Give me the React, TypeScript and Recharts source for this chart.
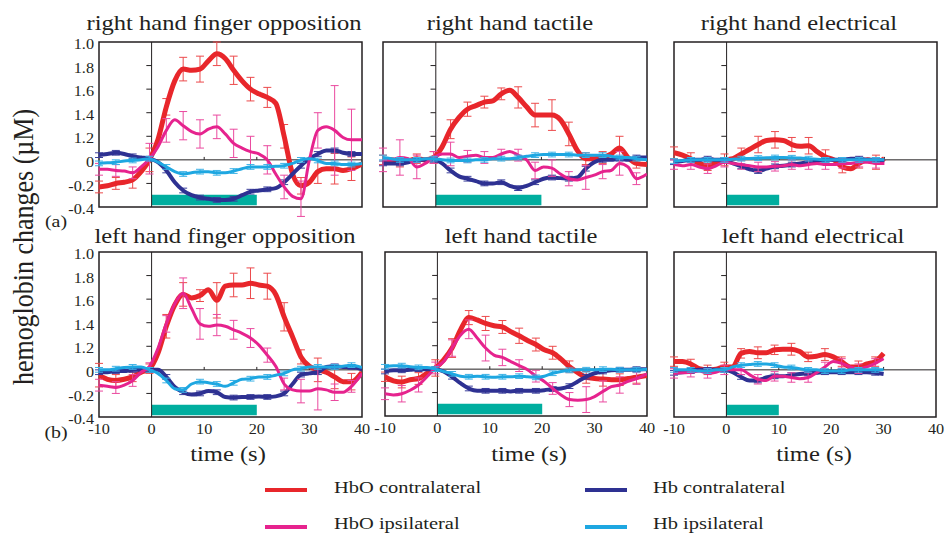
import React from 'react';
import { LineChart, Line, XAxis, YAxis, ErrorBar, ReferenceArea, ReferenceLine } from 'recharts';

// ---------- axis ticks ----------
const yTicks = [-0.4, -0.2, 0, 0.2, 0.4, 0.6, 0.8, 1.0];
const yTickLabels = ['-0.4', '-0.2', '0', '1.2', '1.4', '1.6', '1.8', '1.0'];
const xTicks = [-10, 0, 10, 20, 30, 40];
const xTickLabels = ['-10', '0', '10', '20', '30', '40'];

// ---------- time bases (s) ----------
const times40 = [-10, -8.4, -6.8, -5.2, -3.6, -2, -0.4, 1.2, 2.8, 4.4, 6, 7.6, 9.2, 10.8, 12.4, 14, 15.6, 17.2, 18.8, 20.4, 22, 23.6, 25.2, 26.8, 28.4, 30, 31.6, 33.2, 34.8, 36.4, 38, 40];
const times30 = [-10, -8.4, -6.8, -5.2, -3.6, -2, -0.4, 1.2, 2.8, 4.4, 6, 7.6, 9.2, 10.8, 12.4, 14, 15.6, 17.2, 18.8, 20.4, 22, 23.6, 25.2, 26.8, 28.4, 30];

// ---------- right hand finger opposition ----------
const rfHboC = [-0.23, -0.22, -0.2, -0.19, -0.17, -0.1, 0, 0.17, 0.45, 0.67, 0.77, 0.76, 0.77, 0.84, 0.9, 0.86, 0.76, 0.67, 0.6, 0.56, 0.53, 0.48, 0.2, -0.12, -0.22, -0.19, -0.1, -0.075, -0.075, -0.09, -0.075, -0.035];
const rfHboI = [-0.08, -0.08, -0.09, -0.095, -0.11, -0.06, 0.01, 0.11, 0.25, 0.34, 0.29, 0.24, 0.22, 0.26, 0.28, 0.22, 0.14, 0.1, 0.07, 0.05, 0, -0.12, -0.23, -0.31, -0.33, 0, 0.25, 0.28, 0.25, 0.19, 0.17, 0.17];
const rfHbC = [0.04, 0.05, 0.06, 0.05, 0.03, 0.02, 0.01, -0.02, -0.09, -0.19, -0.26, -0.3, -0.32, -0.33, -0.34, -0.34, -0.33, -0.3, -0.27, -0.26, -0.25, -0.24, -0.19, -0.12, -0.05, 0.01, 0.05, 0.08, 0.08, 0.06, 0.05, 0.05];
const rfHbI = [-0.03, -0.025, -0.02, -0.01, -0.005, 0, 0.01, -0.02, -0.06, -0.1, -0.12, -0.11, -0.1, -0.1, -0.11, -0.11, -0.095, -0.075, -0.06, -0.06, -0.06, -0.055, -0.05, -0.03, 0, 0.01, -0.005, -0.03, -0.03, -0.04, -0.04, -0.03];
const rfErrHboC = [0.05, 0.05, 0.07, 0.1, 0.07, 0.1, 0.11, 0.1, 0.12, 0.1, 0.085, 0.1, 0.07, 0.1, 0.13, 0.1];
const rfErrHboI = [0.05, 0.05, 0.05, 0.13, 0.1, 0.12, 0.12, 0.1, 0.12, 0.13, 0.12, 0.1, 0.15, 0.15, 0.38, 0.26];
const rfErrHbC = [0.02, 0.02, 0.02, 0.02, 0.02, 0.02, 0.02, 0.02, 0.02, 0.02, 0.02, 0.02, 0.02, 0.02, 0.02, 0.02];
const rfErrHbI = [0.02, 0.02, 0.02, 0.02, 0.02, 0.02, 0.02, 0.02, 0.02, 0.02, 0.02, 0.02, 0.02, 0.02, 0.02, 0.02];

// ---------- right hand tactile ----------
const rtHboC = [0, 0, -0.02, -0.01, 0.01, 0, 0.02, 0.11, 0.26, 0.36, 0.43, 0.46, 0.49, 0.5, 0.56, 0.59, 0.53, 0.45, 0.38, 0.38, 0.38, 0.34, 0.22, 0.08, 0.01, 0.01, 0.02, 0.05, 0.1, 0.02, -0.03, -0.04];
const rtHboI = [0, 0, 0.02, 0.01, -0.06, -0.03, 0.02, 0.05, 0.05, 0.02, 0.03, 0.04, 0.02, 0.02, 0.05, 0.07, 0.04, 0, -0.09, -0.06, -0.07, -0.12, -0.16, -0.17, -0.15, -0.13, -0.1, -0.09, -0.03, -0.06, -0.16, -0.12];
const rtHbC = [-0.03, -0.03, -0.03, -0.02, 0, 0, 0, -0.03, -0.09, -0.14, -0.16, -0.18, -0.2, -0.2, -0.19, -0.22, -0.24, -0.22, -0.19, -0.16, -0.15, -0.155, -0.16, -0.15, -0.075, -0.02, 0, 0, 0.01, 0, 0.02, 0.02];
const rtHbI = [0.02, 0.01, 0, 0, 0, 0.01, 0.01, 0, -0.005, -0.005, -0.005, 0, 0, 0.01, 0.01, 0.01, 0.02, 0.03, 0.04, 0.045, 0.045, 0.045, 0.045, 0.04, 0.04, 0.04, 0.04, 0.03, 0.02, 0.02, 0.01, 0];
const rtErrHboC = [0.04, 0.04, 0.04, 0.05, 0.08, 0.06, 0.05, 0.05, 0.09, 0.1, 0.13, 0.1, 0.05, 0.05, 0.1, 0.04];
const rtErrHboI = [0.1, 0.15, 0.1, 0.05, 0.1, 0.05, 0.05, 0.04, 0.05, 0.07, 0.07, 0.06, 0.1, 0.06, 0.1, 0.05];
const rtErrHbC = [0.02, 0.02, 0.02, 0.02, 0.02, 0.02, 0.02, 0.02, 0.02, 0.02, 0.02, 0.02, 0.02, 0.02, 0.02, 0.02];
const rtErrHbI = [0.02, 0.02, 0.02, 0.02, 0.02, 0.02, 0.02, 0.02, 0.02, 0.02, 0.02, 0.02, 0.02, 0.02, 0.02, 0.02];

// ---------- right hand electrical ----------
const reHboC = [0.06, 0.04, 0.01, -0.03, -0.05, -0.02, 0, 0.01, 0.05, 0.09, 0.13, 0.165, 0.17, 0.165, 0.13, 0.115, 0.12, 0.07, 0.025, 0, -0.06, -0.075, -0.03, 0, -0.02, 0.01];
const reHboI = [-0.04, -0.05, -0.04, -0.06, -0.075, -0.05, -0.02, -0.03, -0.04, -0.05, -0.06, -0.06, -0.055, -0.05, -0.04, -0.05, -0.04, -0.03, -0.04, -0.04, -0.03, -0.03, -0.02, -0.02, -0.03, -0.03];
const reHbC = [-0.02, -0.01, 0, 0, 0.01, 0, 0, -0.03, -0.055, -0.08, -0.095, -0.075, -0.055, -0.05, -0.04, -0.03, -0.02, -0.01, 0, 0, 0, 0.01, 0.01, 0, 0, -0.01];
const reHbI = [-0.01, -0.005, 0, 0, 0, 0, 0, 0.005, 0.01, 0.012, 0.015, 0.018, 0.02, 0.02, 0.018, 0.015, 0.01, 0.005, 0, 0, 0, 0, 0, 0, 0, 0];
const reErrHboC = [0.05, 0.05, 0.04, 0.05, 0.05, 0.07, 0.07, 0.06, 0.07, 0.06, 0.05, 0.04, 0.06];
const reErrHboI = [0.04, 0.04, 0.04, 0.04, 0.04, 0.04, 0.04, 0.04, 0.04, 0.04, 0.04, 0.04, 0.04];
const reErrHbC = [0.02, 0.02, 0.02, 0.02, 0.02, 0.02, 0.02, 0.02, 0.02, 0.02, 0.02, 0.02, 0.02];
const reErrHbI = [0.02, 0.02, 0.02, 0.02, 0.02, 0.02, 0.02, 0.02, 0.02, 0.02, 0.02, 0.02, 0.02];

// ---------- left hand finger opposition ----------
const lfHboC = [-0.045, -0.08, -0.09, -0.08, -0.06, -0.02, 0.01, 0.14, 0.37, 0.55, 0.64, 0.61, 0.63, 0.68, 0.59, 0.71, 0.72, 0.72, 0.735, 0.72, 0.71, 0.64, 0.45, 0.28, 0.11, 0.03, 0, -0.02, -0.06, -0.1, -0.1, -0.02];
const lfHboI = [-0.13, -0.14, -0.15, -0.13, -0.09, -0.02, 0.03, 0.18, 0.39, 0.56, 0.65, 0.52, 0.39, 0.37, 0.38, 0.37, 0.34, 0.31, 0.27, 0.21, 0.125, 0.03, -0.12, -0.17, -0.18, -0.18, -0.16, -0.17, -0.19, -0.19, -0.14, -0.03];
const lfHbC = [-0.02, -0.02, -0.01, -0.01, 0, 0, 0, 0, -0.06, -0.145, -0.19, -0.21, -0.2, -0.18, -0.19, -0.23, -0.235, -0.23, -0.23, -0.225, -0.23, -0.225, -0.2, -0.12, -0.04, -0.03, -0.02, 0.025, 0.03, 0.025, 0.025, 0.005];
const lfHbI = [0, 0, 0.01, 0.02, 0.025, 0.025, 0, -0.03, -0.09, -0.16, -0.17, -0.12, -0.1, -0.11, -0.12, -0.14, -0.11, -0.08, -0.075, -0.06, -0.06, -0.045, -0.03, 0, 0.01, 0.025, 0.025, 0.025, 0.025, 0.03, 0.04, 0.02];
const lfErrHboC = [0.1, 0.05, 0.04, 0.04, 0.1, 0.1, 0.05, 0.15, 0.1, 0.13, 0.11, 0.12, 0.06, 0.1, 0.1, 0.07];
const lfErrHboI = [0.05, 0.05, 0.05, 0.03, 0.07, 0.13, 0.13, 0.09, 0.08, 0.08, 0.06, 0.05, 0.1, 0.18, 0.07, 0.05];
const lfErrHbC = [0.02, 0.02, 0.02, 0.02, 0.02, 0.02, 0.02, 0.02, 0.02, 0.02, 0.02, 0.02, 0.02, 0.02, 0.02, 0.02];
const lfErrHbI = [0.02, 0.02, 0.02, 0.02, 0.02, 0.02, 0.02, 0.02, 0.02, 0.02, 0.02, 0.02, 0.02, 0.02, 0.02, 0.02];

// ---------- left hand tactile ----------
const ltHboC = [-0.065, -0.1, -0.11, -0.09, -0.08, -0.035, 0.01, 0.08, 0.18, 0.335, 0.44, 0.42, 0.39, 0.37, 0.36, 0.32, 0.285, 0.245, 0.21, 0.165, 0.14, 0.085, 0.02, -0.03, -0.07, -0.08, -0.085, -0.09, -0.09, -0.08, -0.07, -0.055];
const ltHboI = [-0.21, -0.22, -0.21, -0.18, -0.135, -0.065, 0.01, 0.065, 0.18, 0.29, 0.34, 0.265, 0.18, 0.12, 0.1, 0.065, 0.03, -0.005, -0.06, -0.105, -0.165, -0.22, -0.26, -0.265, -0.26, -0.235, -0.19, -0.15, -0.135, -0.105, -0.08, -0.04];
const ltHbC = [-0.02, -0.01, -0.01, -0.005, 0, 0, 0, -0.02, -0.065, -0.12, -0.165, -0.185, -0.185, -0.185, -0.185, -0.19, -0.185, -0.185, -0.185, -0.18, -0.17, -0.165, -0.145, -0.105, -0.065, -0.035, -0.02, -0.01, -0.005, -0.005, 0, 0];
const ltHbI = [0.02, 0.03, 0.03, 0.02, 0.015, 0.015, 0, -0.02, -0.04, -0.06, -0.065, -0.06, -0.065, -0.07, -0.065, -0.065, -0.06, -0.065, -0.07, -0.06, -0.035, -0.02, -0.01, -0.005, -0.005, -0.005, 0, 0, -0.005, -0.005, -0.005, 0];
const ltErrHboC = [0.04, 0.05, 0.05, 0.07, 0.08, 0.06, 0.06, 0.055, 0.065, 0.055, 0.055, 0.05, 0.05, 0.06, 0.05, 0.05];
const ltErrHboI = [0.05, 0.07, 0.06, 0.05, 0.07, 0.08, 0.11, 0.07, 0.05, 0.05, 0.05, 0.06, 0.11, 0.09, 0.07, 0.05];
const ltErrHbC = [0.02, 0.02, 0.02, 0.02, 0.02, 0.02, 0.02, 0.02, 0.02, 0.02, 0.02, 0.02, 0.02, 0.02, 0.02, 0.02];
const ltErrHbI = [0.02, 0.02, 0.02, 0.02, 0.02, 0.02, 0.02, 0.02, 0.02, 0.02, 0.02, 0.02, 0.02, 0.02, 0.02, 0.02];

// ---------- left hand electrical ----------
const leHboC = [0.07, 0.07, 0.05, 0.01, 0, 0.005, 0.025, 0.025, 0.14, 0.155, 0.145, 0.145, 0.17, 0.175, 0.175, 0.155, 0.11, 0.115, 0.13, 0.11, 0.07, 0.025, 0.025, 0.05, 0.07, 0.14];
const leHboI = [-0.03, -0.025, -0.02, -0.01, -0.03, -0.02, 0, 0, 0, -0.04, -0.08, -0.09, -0.055, -0.055, -0.065, -0.075, -0.065, -0.025, 0.025, 0.07, 0.055, 0.025, 0.01, 0.025, 0.055, 0.095];
const leHbC = [-0.025, -0.02, -0.01, 0, 0, 0, 0, -0.02, -0.06, -0.09, -0.09, -0.065, -0.055, -0.055, -0.045, -0.035, -0.03, -0.025, -0.02, -0.02, -0.02, -0.02, -0.02, -0.02, -0.025, -0.035];
const leHbI = [0, 0, 0, -0.01, -0.01, 0, 0, 0.025, 0.04, 0.045, 0.05, 0.05, 0.04, 0.025, 0.02, 0.01, 0, 0, -0.01, -0.01, -0.01, 0, 0, 0, 0, 0];
const leErrHboC = [0.04, 0.04, 0.04, 0.04, 0.04, 0.05, 0.04, 0.05, 0.04, 0.05, 0.04, 0.05, 0.04];
const leErrHboI = [0.04, 0.04, 0.04, 0.04, 0.04, 0.04, 0.04, 0.04, 0.04, 0.04, 0.04, 0.04, 0.04];
const leErrHbC = [0.02, 0.02, 0.02, 0.02, 0.02, 0.02, 0.02, 0.02, 0.02, 0.02, 0.02, 0.02, 0.02];
const leErrHbI = [0.02, 0.02, 0.02, 0.02, 0.02, 0.02, 0.02, 0.02, 0.02, 0.02, 0.02, 0.02, 0.02];

// ---------- labels ----------
const panelTitles = ['right hand finger opposition', 'right hand tactile', 'right hand electrical', 'left hand finger opposition', 'left hand tactile', 'left hand electrical'];
const stimulusEnd = [20, 20, 10, 20, 20, 10];
const seriesNames = ['HbO contralateral', 'HbO ipsilateral', 'Hb contralateral', 'Hb ipsilateral'];
const yAxisTitle = 'hemoglobin changes (\u00b5M)';
const xAxisTitle = 'time (s)';
const rowTags = ['(a)', '(b)'];

// ---------- styles ----------
const FONT = "'Liberation Serif', 'Times New Roman', serif";
const INK = '#231f20';
const COL = { hboC: '#e8262b', hboI: '#e6238e', hbC: '#2e3192', hbI: '#1ea7e1' };
const ERRCOL = { hboC: '#ec4a4c', hboI: '#ea4a9f', hbC: '#3b3f9c', hbI: '#3cb2e6' };
const TEAL = '#00ae9f';
const SX = 1.17;

type Series = { hboC: number[]; hboI: number[]; hbC: number[]; hbI: number[] };

function buildRows(times: number[], s: Series, e: Series) {
  return times.map((t, i) => {
    const row: any = { t, hboC: s.hboC[i], hboI: s.hboI[i], hbC: s.hbC[i], hbI: s.hbI[i] };
    if (i % 2 === 0) {
      const k = i / 2;
      row.eHboC = e.hboC[k];
      row.eHboI = e.hboI[k];
      row.eHbC = e.hbC[k];
      row.eHbI = e.hbI[k];
    }
    return row;
  });
}

const panelData = [
  buildRows(times40, { hboC: rfHboC, hboI: rfHboI, hbC: rfHbC, hbI: rfHbI }, { hboC: rfErrHboC, hboI: rfErrHboI, hbC: rfErrHbC, hbI: rfErrHbI }),
  buildRows(times40, { hboC: rtHboC, hboI: rtHboI, hbC: rtHbC, hbI: rtHbI }, { hboC: rtErrHboC, hboI: rtErrHboI, hbC: rtErrHbC, hbI: rtErrHbI }),
  buildRows(times30, { hboC: reHboC, hboI: reHboI, hbC: reHbC, hbI: reHbI }, { hboC: reErrHboC, hboI: reErrHboI, hbC: reErrHbC, hbI: reErrHbI }),
  buildRows(times40, { hboC: lfHboC, hboI: lfHboI, hbC: lfHbC, hbI: lfHbI }, { hboC: lfErrHboC, hboI: lfErrHboI, hbC: lfErrHbC, hbI: lfErrHbI }),
  buildRows(times40, { hboC: ltHboC, hboI: ltHboI, hbC: ltHbC, hbI: ltHbI }, { hboC: ltErrHboC, hboI: ltErrHboI, hbC: ltErrHbC, hbI: ltErrHbI }),
  buildRows(times30, { hboC: leHboC, hboI: leHboI, hbC: leHbC, hbI: leHbI }, { hboC: leErrHboC, hboI: leErrHboI, hbC: leErrHbC, hbI: leErrHbI }),
];

// layout of the six plot boxes (pixels)
const layout = [
  { x: 99, y: 42, w: 263, h: 165, tx: 224, ty: 30 },
  { x: 383, y: 42, w: 264, h: 165, tx: 510, ty: 30 },
  { x: 674, y: 42, w: 263, h: 165, tx: 799, ty: 30 },
  { x: 99, y: 252, w: 263, h: 165, tx: 225, ty: 243 },
  { x: 385, y: 252, w: 262, h: 164, tx: 521, ty: 243 },
  { x: 674, y: 252, w: 262, h: 165, tx: 813, ty: 243 },
];

const renderYTick = (props: any) => {
  const { x, y, payload } = props;
  const idx = yTicks.findIndex((v) => Math.abs(v - payload.value) < 1e-9);
  return (
    <text transform={`translate(${x},${y + 2}) scale(1.12,1)`} textAnchor="end" dominantBaseline="central" fontSize={14.5} fontFamily={FONT} fill={INK}>
      {yTickLabels[idx]}
    </text>
  );
};

const renderXTick = (props: any) => {
  const { x, y, payload } = props;
  const idx = xTicks.findIndex((v) => Math.abs(v - payload.value) < 1e-9);
  return (
    <text transform={`translate(${x},${y}) scale(1.12,1)`} textAnchor="middle" dy="0.71em" fontSize={14.5} fontFamily={FONT} fill={INK}>
      {xTickLabels[idx]}
    </text>
  );
};

function Panel({ idx }: { idx: number }) {
  const p = layout[idx];
  const rows = panelData[idx];
  const showY = idx % 3 === 0;
  const showX = idx >= 3;
  const innerTicks = yTicks.filter((v) => v > -0.39 && v < 0.99);
  return (
    <div style={{ position: 'absolute', left: p.x - 50, top: p.y - 5 }}>
      <LineChart width={p.w + 50 + 18} height={p.h + 35} data={rows} margin={{ top: 5, right: 18, bottom: 0, left: 0 }}>
        <XAxis type="number" dataKey="t" domain={[-10, 40]} ticks={xTicks} interval={0} allowDataOverflow axisLine={false} tickLine={false} tickSize={0} tickMargin={7} height={30} tick={showX ? renderXTick : false} />
        <YAxis type="number" domain={[-0.4, 1.0]} ticks={yTicks} interval={0} allowDataOverflow axisLine={false} tickLine={false} tickSize={0} tickMargin={5} width={50} tick={showY ? renderYTick : false} />
        <ReferenceArea x1={0} x2={stimulusEnd[idx]} y1={-0.385} y2={-0.295} fill={TEAL} fillOpacity={1} stroke="none" />
        <ReferenceLine x={0} stroke={INK} strokeWidth={1} />
        <ReferenceLine segment={[{ x: 0, y: 0 }, { x: 40, y: 0 }]} stroke={INK} strokeWidth={1} />
        {innerTicks.map((v) => (
          <ReferenceLine key={'yt' + v} segment={[{ x: -1, y: v }, { x: 0, y: v }]} stroke={INK} strokeWidth={1} />
        ))}
        {[10, 20, 30].map((v) => (
          <ReferenceLine key={'xt' + v} segment={[{ x: v, y: 0 }, { x: v, y: 0.025 }]} stroke={INK} strokeWidth={1} />
        ))}
        <ReferenceArea x1={-10} x2={40} y1={-0.4} y2={1.0} fill="none" fillOpacity={0} stroke={INK} strokeWidth={1.5} />
        <Line type="monotone" dataKey="hboC" stroke={COL.hboC} strokeWidth={5} dot={false} isAnimationActive={false}>
          <ErrorBar dataKey="eHboC" width={4} stroke={ERRCOL.hboC} strokeWidth={1} direction="y" />
        </Line>
        <Line type="monotone" dataKey="hbC" stroke={COL.hbC} strokeWidth={4} dot={false} isAnimationActive={false}>
          <ErrorBar dataKey="eHbC" width={4} stroke={ERRCOL.hbC} strokeWidth={1} direction="y" />
        </Line>
        <Line type="monotone" dataKey="hboI" stroke={COL.hboI} strokeWidth={3} dot={false} isAnimationActive={false}>
          <ErrorBar dataKey="eHboI" width={4} stroke={ERRCOL.hboI} strokeWidth={1} direction="y" />
        </Line>
        <Line type="monotone" dataKey="hbI" stroke={COL.hbI} strokeWidth={3} dot={false} isAnimationActive={false}>
          <ErrorBar dataKey="eHbI" width={4} stroke={ERRCOL.hbI} strokeWidth={1} direction="y" />
        </Line>
      </LineChart>
    </div>
  );
}

function Overlay() {
  const legendItems = [
    { name: seriesNames[0], color: COL.hboC, sx: 265, tx: 334, y: 490, by: 493 },
    { name: seriesNames[2], color: COL.hbC, sx: 585, tx: 653, y: 490, by: 493 },
    { name: seriesNames[1], color: COL.hboI, sx: 265, tx: 334, y: 527, by: 529 },
    { name: seriesNames[3], color: COL.hbI, sx: 585, tx: 653, y: 527, by: 529 },
  ];
  const timeX = [228, 529, 814];
  return (
    <svg width={945} height={533} style={{ position: 'absolute', left: 0, top: 0, pointerEvents: 'none' }} fontFamily={FONT} fill={INK}>
      {panelTitles.map((t, i) => (
        <text key={t} transform={`translate(${layout[i].tx},${layout[i].ty}) scale(${SX},1)`} textAnchor="middle" fontSize={21}>
          {t}
        </text>
      ))}
      {timeX.map((x) => (
        <text key={'time' + x} transform={`translate(${x},461) scale(${SX},1)`} textAnchor="middle" fontSize={21}>
          {xAxisTitle}
        </text>
      ))}
      <text transform={`translate(23,247) scale(${SX},1) rotate(-90)`} textAnchor="middle" dominantBaseline="central" fontSize={26}>
        {yAxisTitle}
      </text>
      <text transform={`translate(56,227) scale(${SX},1)`} textAnchor="middle" fontSize={17}>
        {rowTags[0]}
      </text>
      <text transform={`translate(56,438) scale(${SX},1)`} textAnchor="middle" fontSize={17}>
        {rowTags[1]}
      </text>
      {legendItems.map((it) => (
        <g key={it.name}>
          <line x1={it.sx} x2={it.sx + 42} y1={it.y} y2={it.y} stroke={it.color} strokeWidth={4} />
          <text transform={`translate(${it.tx},${it.by}) scale(${SX},1)`} fontSize={17.5}>
            {it.name}
          </text>
        </g>
      ))}
    </svg>
  );
}

export default function App() {
  return (
    <div style={{ position: 'absolute', left: 0, top: 0, width: 945, height: 533, background: '#fff', overflow: 'hidden' }}>
      {[0, 1, 2, 3, 4, 5].map((i) => (
        <Panel key={i} idx={i} />
      ))}
      <Overlay />
    </div>
  );
}
